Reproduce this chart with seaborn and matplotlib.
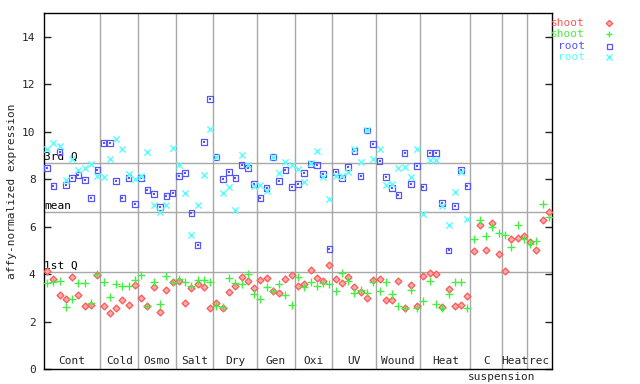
import numpy as np
import matplotlib
matplotlib.use('Agg')
import matplotlib.pyplot as plt
import matplotlib.transforms as mtransforms
import seaborn as sns

# ── Data ──────────────────────────────────────────────────────
groups = ['Cont', 'Cold', 'Osmo', 'Salt', 'Dry', 'Gen', 'Oxi',
          'UV', 'Wound', 'Heat', 'C', 'Heat', 'rec']
group_sizes = [9, 6, 6, 6, 7, 6, 6, 7, 7, 8, 5, 4, 4]

shoot_red = [4.11, 3.78, 3.12, 2.94, 3.87, 3.12, 2.66, 2.69, 3.96,
             2.66, 2.35, 2.56, 2.90, 2.69, 3.53,
             2.98, 2.66, 3.46, 2.39, 3.32, 3.67,
             3.71, 2.78, 3.42, 3.57, 3.46, 2.56,
             2.77, 2.57, 3.23, 3.49, 3.87, 3.70, 3.40,
             3.75, 3.82, 3.29, 3.21, 3.78, 3.95,
             3.49, 3.57, 4.16, 3.82, 3.70, 4.37,
             3.78, 3.61, 3.87, 3.44, 3.23, 2.98, 3.74,
             3.78, 2.90, 2.90, 3.70, 2.56, 3.53, 2.64,
             3.91, 4.03, 3.99, 2.60, 3.36, 2.64, 2.69, 3.06,
             4.96, 6.06, 5.00, 6.14, 4.84,
             4.12, 5.47, 5.51, 5.60,
             5.34, 5.00, 6.27, 6.61]

shoot_green = [3.63, 3.67, 3.70, 2.60, 2.94, 3.63, 3.63, 2.77, 3.99,
               3.67, 3.02, 3.57, 3.49, 3.49, 3.74,
               3.95, 2.66, 3.67, 2.74, 3.92, 3.67,
               3.78, 3.67, 3.49, 3.74, 3.74, 3.67,
               2.66, 2.60, 3.82, 3.63, 3.57, 3.99, 3.16,
               2.94, 3.44, 3.29, 3.57, 3.12, 2.69,
               3.87, 3.44, 3.66, 3.49, 3.61, 3.57,
               3.28, 4.03, 3.70, 3.19, 3.32, 3.19, 3.66,
               3.28, 3.66, 3.15, 2.64, 2.56, 3.32, 2.56,
               2.85, 3.70, 2.73, 2.56, 3.15, 3.66, 3.66, 2.56,
               5.47, 6.27, 5.60, 5.97, 5.72,
               5.64, 5.13, 6.06, 5.47,
               5.26, 5.38, 6.95, 6.40]

# root samples stop after the first Heat group
root_blue = [8.46, 7.70, 9.15, 7.75, 8.04, 8.17, 7.96, 7.20, 8.38,
             9.52, 9.52, 7.92, 7.20, 8.04, 6.95,
             8.04, 7.54, 7.37, 6.82, 7.28, 7.41,
             8.13, 8.25, 6.57, 5.22, 9.56, 11.37,
             8.93, 8.00, 8.29, 8.04, 8.59, 8.46, 7.79,
             7.20, 7.62, 8.93, 7.92, 8.38, 7.66,
             7.79, 8.25, 8.63, 8.59, 8.21, 5.05,
             8.29, 8.04, 8.51, 9.18, 8.13, 10.05, 9.48,
             8.76, 8.08, 7.62, 7.32, 9.10, 7.79, 8.55,
             7.66, 9.10, 9.10, 6.99, 5.00, 6.86, 8.38, 7.70]

root_cyan = [9.26, 9.52, 9.39, 7.96, 8.84, 8.38, 8.46, 8.63, 8.13,
             8.08, 8.84, 9.69, 9.26, 8.21, 8.00,
             8.13, 9.14, 6.90, 6.61, 6.90, 9.31,
             8.59, 7.41, 5.64, 6.90, 8.17, 10.11,
             8.93, 7.41, 7.66, 6.69, 9.01, 8.59, 7.70,
             7.75, 7.49, 8.93, 8.25, 8.72, 8.59,
             8.42, 7.87, 8.67, 9.18, 8.08, 7.16,
             8.13, 8.13, 8.29, 9.26, 8.72, 10.05, 8.84,
             9.26, 7.75, 7.79, 8.46, 8.51, 8.08, 9.26,
             6.52, 8.80, 8.80, 6.86, 6.06, 7.45, 8.29, 6.31]

stat_names = ['3rd Q', 'mean', '1st Q']
stat_values = [8.68, 6.62, 4.09]

RED, GREEN, BLUE, CYAN = '#ff5555', '#44ee44', '#5555ff', '#55ffff'
RED_FACE = '#ffaaaa'
GRID = '#a8a8a8'

# ── Style ─────────────────────────────────────────────────────
sns.set_style('white')
plt.rcParams['font.family'] = ['DejaVu Sans Mono']
plt.rcParams['font.size'] = 8

fig = plt.figure(figsize=(6.4, 3.84), dpi=100)
ax = fig.add_axes([44 / 640, 15 / 384, 508 / 640, 356 / 384])

n_total = sum(group_sizes)
x_all = np.arange(n_total) + 0.5
x_root = np.arange(len(root_blue)) + 0.5

# ── Reference lines ───────────────────────────────────────────
bounds = np.cumsum(group_sizes)
for b in bounds[:-1]:
    ax.axvline(b, color=GRID, lw=1, zorder=1)
for name, v in zip(stat_names, stat_values):
    ax.axhline(v, color=GRID, lw=1, zorder=1)
    ax.text(0.05, v + 0.05, name, ha='left', va='bottom', fontsize=8, color='black')

# ── Points ────────────────────────────────────────────────────
sns.scatterplot(x=x_all, y=shoot_red, marker='D', s=12, facecolor=RED_FACE,
                edgecolor=RED, linewidth=0.9, ax=ax, zorder=3)
sns.scatterplot(x=x_all, y=shoot_green, marker='+', s=28, color=GREEN,
                linewidth=1.0, ax=ax, zorder=3)
sns.scatterplot(x=x_root, y=root_blue, marker='s', s=16, facecolor='none',
                edgecolor=BLUE, linewidth=0.9, ax=ax, zorder=3)
sns.scatterplot(x=x_root, y=root_blue, marker='s', s=1, color=BLUE,
                linewidth=0, ax=ax, zorder=3)
sns.scatterplot(x=x_root, y=root_cyan, marker='x', s=20, color=CYAN,
                linewidth=1.0, ax=ax, zorder=3)

# ── Axes ──────────────────────────────────────────────────────
ax.set_xlim(0, n_total)
ax.set_ylim(0, 15)
ax.set_xticks([])
ax.set_yticks(range(0, 15, 2))
ax.tick_params(axis='y', direction='in', length=5, width=1, right=True,
               left=True, labelsize=8, pad=6)
for sp in ax.spines.values():
    sp.set_visible(True)
    sp.set_color('black')
    sp.set_linewidth(1)
ax.set_ylabel('affy-normalized expression', fontsize=8, labelpad=4)

# group labels inside the bottom of the plot
trans = mtransforms.blended_transform_factory(ax.transData, ax.transAxes)
starts = np.concatenate([[0], bounds[:-1]])
for name, s0, s1 in zip(groups, starts, bounds):
    ax.text((s0 + s1) / 2, 0.008, name, transform=trans, ha='center',
            va='bottom', fontsize=8)
ax.text(bounds[10], -0.008, 'suspension', transform=trans, ha='center',
        va='top', fontsize=8)

# ── Legend (outside, right) ───────────────────────────────────
legend_rows = [('shoot', RED, 'D'), ('shoot', GREEN, '+'),
               ('root', BLUE, 's'), ('root', CYAN, 'x')]
for k, (lab, col, mk) in enumerate(legend_rows):
    yy = 1 - (23 + k * 11.3) / 384
    fig.text(585 / 640, yy, lab, color=col, ha='right', va='center', fontsize=8)
    if mk == 'D':
        ax.plot([609 / 640], [yy], marker='D', ms=3.2, mfc=RED_FACE, mec=col,
                mew=0.9, transform=fig.transFigure, clip_on=False)
    elif mk == 's':
        ax.plot([609 / 640], [yy], marker='s', ms=3.6, mfc='none', mec=col,
                mew=0.9, transform=fig.transFigure, clip_on=False)
    else:
        ax.plot([609 / 640], [yy], marker=mk, ms=4.5, color=col, mew=1.0,
                transform=fig.transFigure, clip_on=False)

plt.savefig('out.png', dpi=100)
plt.close()
